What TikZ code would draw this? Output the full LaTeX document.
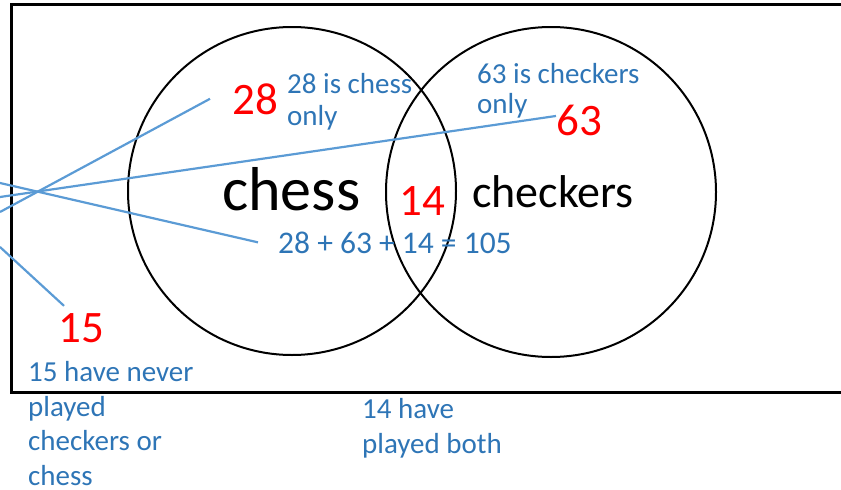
\documentclass[tikz,border=0pt]{standalone}
\usepackage{fontspec}
\setmainfont{Carlito}
\usepackage{xcolor}

\definecolor{notecol}{HTML}{2E75B6}
\definecolor{leadcol}{HTML}{5B9BD5}

\tikzset{
  setname/.style={anchor=base west, inner sep=0pt, text=black},
  count/.style={anchor=base west, inner sep=0pt, text=red, font=\fontsize{45}{54}\selectfont},
  note/.style={anchor=base west, inner sep=0pt, text=notecol, align=left, font=\fontsize{29}{32}\selectfont},
  lead/.style={draw=leadcol, line width=2.2pt}
}

\begin{document}
\begin{tikzpicture}[x=1pt,y=-1pt]
        \useasboundingbox (0,0) rectangle (841,490);

        % Universal set box, runs off to the right
        \draw[line width=2.4pt] (11.5,4.5) rectangle (860,392.5);

        % The two sets
        \draw[line width=2pt] (292,191) circle (164);
        \draw[line width=2pt] (551,192) circle (165);

        % Set names
        \node[setname, font=\fontsize{62}{74}\selectfont] (chess) at (222,210) {chess};
        \node[setname, font=\fontsize{46}{55}\selectfont] (checkers) at (472,207) {checkers};

        % Counts in each region
        \node[count] (n28) at (232,114) {28};
        \node[count] (n63) at (556,135) {63};
        \node[count] (n14) at (399,215) {14};
        \node[count] (n15) at (58,342) {15};

        % Notes (placed by the baseline of their last line)
        \node[note] (chessonly) at (287,125) {28 is chess\\only};
        \node[note, font=\fontsize{29}{30}\selectfont] (checkersonly) at (477,113) {63 is checkers\\only};
        \node[note, font=\fontsize{31.5}{38}\selectfont] (total) at (278,253) {28 + 63 + 14 = 105};
        \node[note, font=\fontsize{29}{34.5}\selectfont] (never) at (28,485) {15 have never\\played\\checkers or\\chess};
        \node[note, font=\fontsize{29}{35}\selectfont] (both) at (362,453) {14 have\\played both};

        % Leader lines coming in from the left
        \coordinate (e1) at (0,212);
        \coordinate (e2) at (0,197);
        \coordinate (e3) at (0,183);
        \coordinate (e4) at (0,247);
        \draw[lead] (e1) -- ([xshift=-22pt]n28.west);
        \draw[lead] (e2) -- ([yshift=4pt]n63.west);
        \draw[lead] (e3) -- ([xshift=-20pt]total.west);
        \draw[lead] (e4) -- ([xshift=-17pt,yshift=7pt]n15.north);
    \end{tikzpicture}
\end{document}
